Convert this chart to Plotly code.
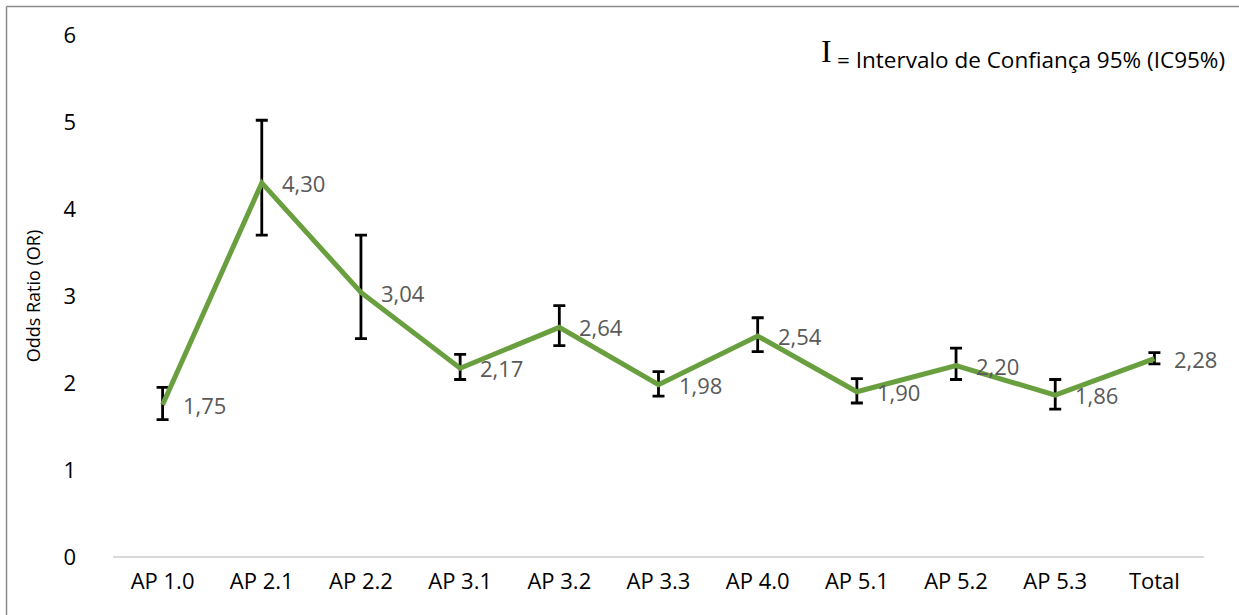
import plotly.graph_objects as go

# Odds ratios per area with 95% confidence limits
categories = ["AP 1.0", "AP 2.1", "AP 2.2", "AP 3.1", "AP 3.2", "AP 3.3",
              "AP 4.0", "AP 5.1", "AP 5.2", "AP 5.3", "Total"]
odds_ratio = [1.75, 4.30, 3.04, 2.17, 2.64, 1.98, 2.54, 1.90, 2.20, 1.86, 2.28]
ci_upper = [1.95, 5.02, 3.70, 2.33, 2.89, 2.13, 2.75, 2.05, 2.40, 2.04, 2.35]
ci_lower = [1.58, 3.70, 2.51, 2.04, 2.43, 1.85, 2.36, 1.77, 2.04, 1.70, 2.22]
y_ticks = [0, 1, 2, 3, 4, 5, 6]

err_plus = [u - v for u, v in zip(ci_upper, odds_ratio)]
err_minus = [v - l for v, l in zip(odds_ratio, ci_lower)]

FONT = "Open Sans"
GREEN = "#6A9F3F"

fig = go.Figure()
fig.add_trace(go.Scatter(
    x=categories, y=odds_ratio, mode="lines",
    line=dict(color=GREEN, width=5),
    error_y=dict(type="data", symmetric=False, array=err_plus, arrayminus=err_minus,
                 color="#000000", thickness=2.8, width=6),
    hoverinfo="x+y", showlegend=False,
))

# value labels to the right of each point
for c, v in zip(categories, odds_ratio):
    fig.add_annotation(x=c, y=v, text=f"{v:.2f}".replace(".", ","),
                       xanchor="left", yanchor="middle", xshift=18, yshift=0,
                       showarrow=False, font=dict(family=FONT, size=22, color="#595959"))

# confidence interval key
fig.add_annotation(xref="paper", yref="paper", x=0.647, y=0.97, xanchor="left", yanchor="middle",
                   text="I", showarrow=False,
                   font=dict(family="Liberation Serif", size=32, color="#000000"))
fig.add_annotation(xref="paper", yref="paper", x=0.6615, y=0.953, xanchor="left", yanchor="middle",
                   text="= Intervalo de Confiança 95% (IC95%)", showarrow=False,
                   font=dict(family=FONT, size=22.5, color="#000000"))

# chart area frame (top and left edges)
fig.add_shape(type="line", xref="paper", yref="paper", x0=-0.0976, x1=1.04, y0=1.0546, y1=1.0546,
              line=dict(color="#8C8C8C", width=1.5))
fig.add_shape(type="line", xref="paper", yref="paper", x0=-0.0976, x1=-0.0976, y0=1.0546, y1=-0.12,
              line=dict(color="#8C8C8C", width=1.5))

fig.update_layout(
    width=1239, height=615,
    margin=dict(l=113, r=35, t=35, b=58),
    paper_bgcolor="white", plot_bgcolor="white",
    font=dict(family=FONT, size=22, color="#000000"),
)
fig.update_xaxes(
    type="category", range=[-0.5, len(categories) - 0.5],
    showgrid=False, showline=False, zeroline=False,
    ticks="", ticklabelstandoff=9,
    tickfont=dict(family=FONT, size=22, color="#000000"),
)
fig.update_yaxes(
    range=[0, 6], tickvals=y_ticks, ticktext=[str(t) for t in y_ticks],
    showgrid=False, zeroline=True, zerolinecolor="#D9D9D9", zerolinewidth=1.5,
    showline=False, ticks="", ticklabelstandoff=36,
    tickfont=dict(family=FONT, size=22, color="#000000"),
    title=dict(text="Odds Ratio (OR)", font=dict(family=FONT, size=18, color="#000000"), standoff=18),
)

fig.write_html("out.html")
